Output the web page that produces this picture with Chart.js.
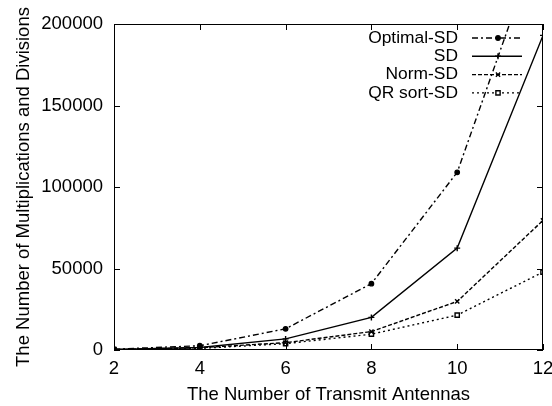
<!DOCTYPE html>
<html>
<head>
<meta charset="utf-8">
<script src="https://cdn.jsdelivr.net/npm/chart.js@4"></script>
<style>
  body { margin: 0; background: #fff; }
  canvas { display: block; }
</style>
</head>
<body>
<canvas id="myChart" width="552" height="406"></canvas>
<script>
const antennas = [2, 4, 6, 8, 10, 12];
const optimalSD = [500, 2600, 13000, 40700, 109000, 258000];
const sd = [300, 1500, 6800, 20000, 62500, 193000];
const normSD = [250, 1400, 4500, 11300, 29800, 79500];
const qrSortSD = [200, 1000, 3900, 9700, 21400, 47800];
const seriesNames = ['Optimal-SD', 'SD', 'Norm-SD', 'QR sort-SD'];
const xTicks = [2, 4, 6, 8, 10, 12];
const yTicks = [0, 50000, 100000, 150000, 200000];

const font = 'Liberation Sans, Arial, sans-serif';
const fontSize = 18.5;
const legendSize = 17.4;

function pts(ys) {
    return antennas.map((x, i) => ({ x: x, y: ys[i] }));
}

const datasets = [
    { label: seriesNames[0], data: pts(optimalSD), borderDash: [6, 3, 2, 3], pointStyle: 'circle', pointRadius: 2.2, pointBackgroundColor: '#000' },
    { label: seriesNames[1], data: pts(sd), borderDash: [], pointStyle: 'cross', pointRadius: 3, pointBackgroundColor: '#000' },
    { label: seriesNames[2], data: pts(normSD), borderDash: [4, 2], pointStyle: 'crossRot', pointRadius: 3, pointBackgroundColor: '#000' },
    { label: seriesNames[3], data: pts(qrSortSD), borderDash: [2, 3], pointStyle: 'rect', pointRadius: 3, pointBackgroundColor: '#fff' }
].map(d => Object.assign({
    borderColor: '#000',
    pointBorderColor: '#000',
    borderWidth: 1.4,
    pointBorderWidth: 1.4,
    tension: 0,
    fill: false
}, d));

// box, mirrored inward ticks and the legend
const framePlugin = {
    id: 'frame',
    afterDraw(chart) {
        const c = chart.ctx;
        const a = chart.chartArea;
        const xs = chart.scales.x, ys = chart.scales.y;
        c.save();
        c.strokeStyle = '#000';
        c.lineWidth = 1;
        c.strokeRect(a.left + 0.5, a.top + 0.5, a.right - a.left - 1, a.bottom - a.top - 1);
        c.beginPath();
        xTicks.forEach(v => {
            const px = Math.round(xs.getPixelForValue(v)) + 0.5;
            c.moveTo(px, a.bottom); c.lineTo(px, a.bottom - 6);
            c.moveTo(px, a.top); c.lineTo(px, a.top + 6);
        });
        yTicks.forEach(v => {
            const py = Math.round(ys.getPixelForValue(v)) + 0.5;
            c.moveTo(a.left, py); c.lineTo(a.left + 6, py);
            c.moveTo(a.right, py); c.lineTo(a.right - 6, py);
        });
        c.stroke();

        // legend
        c.font = legendSize + 'px ' + font;
        c.textAlign = 'right';
        c.textBaseline = 'middle';
        const textRight = 458, lx0 = 472, lx1 = 522, mx = 498;
        chart.data.datasets.forEach((ds, i) => {
            const y = 38 + i * 18.3;
            c.fillStyle = '#000';
            c.fillText(ds.label, textRight, y);
            c.strokeStyle = '#000';
            c.lineWidth = ds.borderWidth;
            c.setLineDash(ds.borderDash);
            c.beginPath();
            c.moveTo(lx0, y); c.lineTo(lx1, y);
            c.stroke();
            c.setLineDash([]);
            c.fillStyle = ds.pointBackgroundColor;
            Chart.helpers.drawPoint(c, {
                pointStyle: ds.pointStyle,
                radius: ds.pointRadius,
                borderWidth: ds.pointBorderWidth
            }, mx, y);
        });
        c.restore();
    }
};

const ctx = document.getElementById('myChart').getContext('2d');
const myChart = new Chart(ctx, {
    type: 'line',
    data: { datasets: datasets },
    plugins: [framePlugin],
    options: {
        responsive: false,
        animation: false,
        layout: { padding: { top: 24, right: 0, left: 0, bottom: 0 } },
        plugins: {
            legend: { display: false },
            tooltip: { enabled: false }
        },
        scales: {
            x: {
                type: 'linear',
                min: 2, max: 12,
                afterBuildTicks: s => { s.ticks = xTicks.map(v => ({ value: v })); },
                afterFit: s => { s.height = 56; s.paddingRight = 9; s.paddingLeft = 0; },
                grid: { drawOnChartArea: false, drawTicks: false },
                border: { display: false },
                ticks: { color: '#000', padding: 8, font: { family: font, size: fontSize } },
                title: { display: true, text: 'The Number of Transmit Antennas', color: '#000', padding: { top: 3, bottom: 0 }, font: { family: font, size: fontSize } }
            },
            y: {
                min: 0, max: 200000,
                afterBuildTicks: s => { s.ticks = yTicks.map(v => ({ value: v })); },
                afterFit: s => { s.width = 114; },
                grid: { drawOnChartArea: false, drawTicks: false },
                border: { display: false },
                ticks: { color: '#000', padding: 11, font: { family: font, size: fontSize }, callback: v => String(v) },
                title: { display: true, text: 'The Number of Multiplications and Divisions', color: '#000', padding: { top: 13, bottom: 0 }, font: { family: font, size: fontSize } }
            }
        }
    }
});
</script>
</body>
</html>
